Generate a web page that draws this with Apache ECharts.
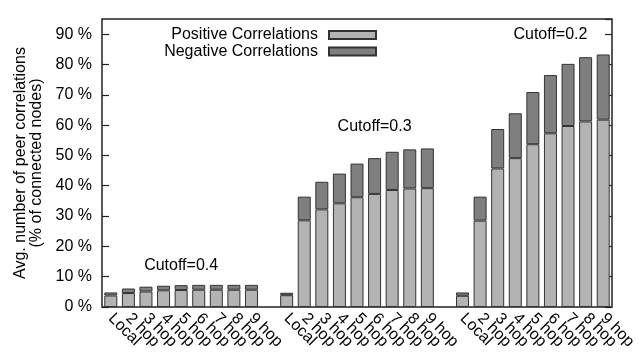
<!DOCTYPE html>
<html>
<head>
<meta charset="utf-8">
<script src="https://cdn.jsdelivr.net/npm/echarts@6/dist/echarts.min.js"></script>
<style>html,body{margin:0;padding:0;background:#fff;}#c{width:640px;height:358px;}</style>
</head>
<body>
<div id="c"></div>
<script>
// ---- data ----
const groupCategories = ['Local', '2 hop', '3 hop', '4 hop', '5 hop', '6 hop', '7 hop', '8 hop', '9 hop'];
// cutoff = 0.4
const positive04 = [3.8, 4.6, 5.1, 5.5, 5.6, 5.7, 5.7, 5.7, 5.7];
const negative04 = [1.0, 1.5, 1.6, 1.5, 1.6, 1.6, 1.6, 1.6, 1.6];
// cutoff = 0.3
const positive03 = [3.9, 28.6, 32.2, 34.2, 36.2, 37.3, 38.6, 39.1, 39.2];
const negative03 = [0.8, 7.8, 9.1, 9.8, 11.1, 11.8, 12.6, 12.9, 13.1];
// cutoff = 0.2
const positive02 = [3.7, 28.5, 45.7, 49.1, 53.7, 57.3, 59.7, 61.2, 61.8];
const negative02 = [1.1, 7.9, 13.0, 14.8, 17.2, 19.2, 20.5, 21.2, 21.5];
const yTicks = [0, 10, 20, 30, 40, 50, 60, 70, 80, 90];
const cutoffLabels = [
  { text: 'Cutoff=0.4', cat: 4, val: 13.7 },
  { text: 'Cutoff=0.3', cat: 15, val: 59.6 },
  { text: 'Cutoff=0.2', cat: 25, val: 90 }
];

// ---- build ----
const xLabels = [...groupCategories, '', ...groupCategories, '', ...groupCategories];
const posAll = [...positive04, '-', ...positive03, '-', ...positive02];
const negAll = [...negative04, '-', ...negative03, '-', ...negative02];

const FONT = '"Liberation Sans", Arial, Helvetica, sans-serif';
const txt = { fontFamily: FONT, fontSize: 16, color: '#000' };

const chart = echarts.init(document.getElementById('c'), null, { renderer: 'canvas' });
const legendCommon = {
  orient: 'horizontal', align: 'right', right: 263, padding: 0,
  itemWidth: 47, itemHeight: 8, icon: 'rect', selectedMode: false,
  textStyle: Object.assign({}, txt, { lineHeight: 16, padding: [0, 6, 0, 0] })
};
chart.setOption({
  animation: false,
  backgroundColor: '#fff',
  grid: { left: 102, right: 28, top: 19, bottom: 51, show: true, borderColor: '#222', borderWidth: 1.5, backgroundColor: 'transparent' },
  legend: [
    Object.assign({}, legendCommon, { data: ['Positive Correlations'], top: 27 }),
    Object.assign({}, legendCommon, { data: ['Negative Correlations'], top: 43.5 })
  ],
  xAxis: {
    type: 'category', data: xLabels,
    axisLine: { show: false }, axisTick: { show: false },
    axisLabel: Object.assign({}, txt, { rotate: -45, interval: 0, margin: 9 })
  },
  yAxis: [
    {
      type: 'value', min: yTicks[0], max: 95, interval: yTicks[1] - yTicks[0],
      name: 'Avg. number of peer correlations\n(% of connected nodes)',
      nameLocation: 'middle', nameGap: 57,
      nameTextStyle: Object.assign({}, txt, { lineHeight: 16 }),
      axisLine: { show: false }, splitLine: { show: false },
      axisTick: { show: true, inside: true, length: 7, lineStyle: { color: '#222', width: 1.2 } },
      axisLabel: Object.assign({}, txt, { margin: 10, showMaxLabel: false,
        formatter: v => (yTicks.indexOf(v) >= 0 ? v + ' %' : '') })
    },
    {
      type: 'value', position: 'right', min: yTicks[0], max: 95, interval: yTicks[1] - yTicks[0],
      axisLine: { show: false }, splitLine: { show: false },
      axisTick: { show: true, inside: true, length: 7, lineStyle: { color: '#222', width: 1.2 } },
      axisLabel: { show: false }
    }
  ],
  series: [
    {
      name: 'Positive Correlations', type: 'bar', stack: 'corr', data: posAll, barWidth: 13,
      itemStyle: { color: '#b3b3b3', borderColor: '#333', borderWidth: 1 },
      emphasis: { disabled: true }
    },
    {
      name: 'Negative Correlations', type: 'bar', stack: 'corr', data: negAll, barWidth: 13,
      itemStyle: { color: '#7f7f7f', borderColor: '#333', borderWidth: 1 },
      emphasis: { disabled: true },
      markPoint: {
        symbol: 'rect', symbolSize: 0, silent: true,
        label: Object.assign({}, txt, { show: true, position: 'inside' }),
        data: cutoffLabels.map(c => ({ coord: [c.cat, c.val], label: { formatter: c.text } }))
      }
    }
  ]
});
</script>
</body>
</html>
